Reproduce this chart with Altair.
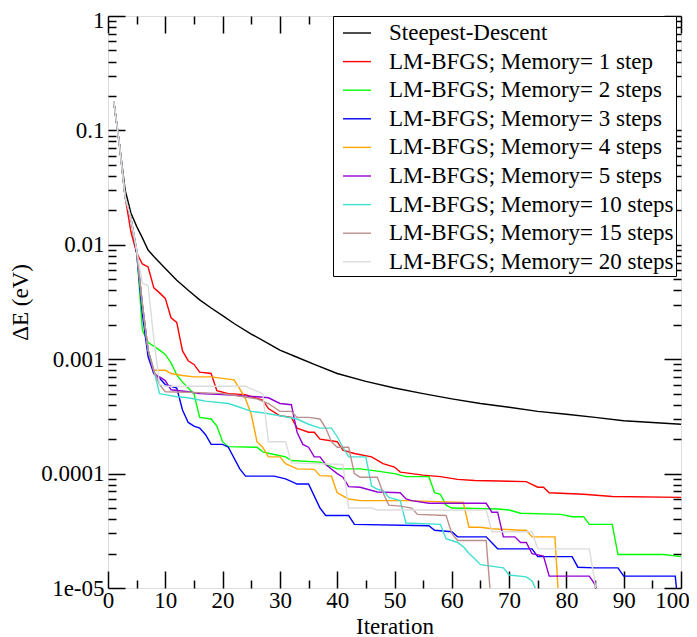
import altair as alt
import pandas as pd
import math

# ---------------- data ----------------
series_names = [
    "Steepest-Descent",
    "LM-BFGS; Memory= 1 step",
    "LM-BFGS; Memory= 2 steps",
    "LM-BFGS; Memory= 3 steps",
    "LM-BFGS; Memory= 4 steps",
    "LM-BFGS; Memory= 5 steps",
    "LM-BFGS; Memory= 10 steps",
    "LM-BFGS; Memory= 15 steps",
    "LM-BFGS; Memory= 20 steps",
]
series_colors = ["#000000", "#ff0000", "#00ff00", "#0000ff", "#ffa500",
                 "#9400d3", "#40e0d0", "#bc8f8f", "#dcdcdc"]

it_sd = [1, 2, 3, 4, 5, 6, 7, 8, 9, 10, 12, 14, 16, 18, 20, 22, 25, 28, 30, 33, 36, 40, 45,
         50, 55, 60, 65, 70, 75, 80, 85, 90, 95, 100]
dE_sd = [0.18, 0.075, 0.03, 0.019, 0.0145, 0.0115, 0.009, 0.0079, 0.007, 0.0062, 0.0049,
         0.004, 0.0033, 0.0028, 0.0024, 0.00205, 0.00166, 0.00137, 0.0012, 0.00104, 0.0009,
         0.00075, 0.00064, 0.00056, 0.0005, 0.00045, 0.00041, 0.00038, 0.00035, 0.00033,
         0.00031, 0.00029, 0.00028, 0.00027]

it_m1 = [1, 2, 3, 4, 5, 6, 7, 8, 9, 10, 11, 12, 13, 14, 15, 16, 18, 19, 21, 24, 25, 27, 28, 30,
         32, 33, 35, 36, 37, 40, 41, 43, 46, 48, 50, 51, 53, 55, 58, 61, 64, 73, 75, 76, 77, 83,
         88, 100]
dE_m1 = [0.18, 0.075, 0.026, 0.013, 0.0085, 0.0068, 0.0064, 0.0042, 0.0038, 0.0034, 0.0023,
         0.0021, 0.00118, 0.00097, 0.0009, 0.00077, 0.00075, 0.00053, 0.0005, 0.00049, 0.00047,
         0.00044, 0.00037, 0.00032, 0.00031, 0.00025, 0.00023, 0.00023, 0.0002, 0.00019,
         0.00016, 0.00015, 0.00014, 0.000122, 0.000114, 0.000103, 0.0001, 0.000097, 0.000094,
         0.000089, 0.000087, 0.000085, 0.000076, 0.000076, 0.000068, 0.000066, 0.000063,
         0.000062]

it_m2 = [1, 2, 3, 4, 5, 6, 7, 8, 9, 10, 11, 12, 13, 14, 15, 16, 18, 19, 20, 21, 26, 27, 29, 31,
         32, 37, 40, 44, 47, 50, 52, 56, 57, 58, 59, 60, 68, 70, 72, 79, 81, 83, 84, 88, 89, 97,
         100]
dE_m2 = [0.18, 0.075, 0.026, 0.017, 0.009, 0.0018, 0.0014, 0.0013, 0.0012, 0.0011, 0.00093,
         0.00073, 0.00063, 0.00056, 0.0005, 0.00031, 0.0003, 0.00026, 0.00019, 0.000172,
         0.00017, 0.000155, 0.000147, 0.00014, 0.00013, 0.000126, 0.00011, 0.00011, 0.000105,
         0.0001, 0.000094, 0.000094, 0.000068, 0.000066, 0.000053, 0.00005, 0.000049,
         0.000048, 0.000045, 0.000044, 0.000042, 0.000042, 0.000036, 0.000036, 0.0000196,
         0.0000196, 0.0000188]

it_m3 = [1, 2, 3, 4, 5, 6, 7, 8, 9, 10, 11, 12, 13, 14, 15, 16, 17, 18, 20, 21, 23, 24, 29, 31,
         33, 35, 37, 38, 42, 43, 56, 57, 60, 61, 66, 68, 74, 75, 81, 82, 85, 89, 90, 99, 100]
dE_m3 = [0.18, 0.075, 0.026, 0.017, 0.0085, 0.0025, 0.00105, 0.00075, 0.00068, 0.0006,
         0.00058, 0.00056, 0.00036, 0.00028, 0.00026, 0.00025, 0.00022, 0.00018, 0.00018,
         0.00017, 0.00011, 0.000095, 0.000095, 0.00009, 0.000081, 0.000081, 0.00005,
         0.000043, 0.000043, 0.000036, 0.000035, 0.000032, 0.000031, 0.000028, 0.000028,
         0.000022, 0.000022, 0.0000188, 0.0000188, 0.0000152, 0.000015, 0.000015, 0.0000127,
         0.0000127, 0.000004]

it_m4 = [1, 2, 3, 4, 5, 6, 7, 8, 10, 11, 13, 15, 18, 20, 22, 23, 24, 25, 26, 27, 28, 30, 31, 33,
         36, 37, 39, 40, 42, 44, 52, 62, 63, 65, 67, 72, 73, 74, 78, 79]
dE_m4 = [0.18, 0.075, 0.026, 0.017, 0.009, 0.003, 0.0012, 0.0008, 0.0008, 0.00075, 0.00072,
         0.0007, 0.0007, 0.00068, 0.00066, 0.00055, 0.00045, 0.00033, 0.00019, 0.00017,
         0.00014, 0.00014, 0.000122, 0.00011, 0.000109, 0.000096, 0.000095, 0.000068,
         0.00006, 0.000058, 0.000058, 0.000056, 0.000034, 0.000034, 0.000033, 0.000032,
         0.000032, 0.000028, 0.000028, 0.000004]

it_m5 = [1, 2, 3, 4, 5, 6, 7, 8, 9, 10, 11, 14, 16, 20, 26, 28, 30, 32, 33, 34, 35, 36, 37, 38,
         40, 41, 42, 44, 47, 51, 52, 53, 56, 66, 67, 68, 69, 71, 72, 73, 74, 76, 77, 84, 85, 86]
dE_m5 = [0.18, 0.075, 0.026, 0.017, 0.009, 0.003, 0.0012, 0.00075, 0.0007, 0.00065, 0.00054,
         0.00052, 0.0005, 0.00049, 0.00047, 0.00046, 0.00041, 0.0004, 0.00023, 0.00018,
         0.00017, 0.00014, 0.00014, 0.00012, 0.0001, 0.000093, 0.000077, 0.000076, 0.000069,
         0.000068, 0.00006, 0.000058, 0.000055, 0.000055, 0.000046, 0.000046, 0.000028,
         0.000028, 0.000025, 0.000025, 0.00002, 0.000019, 0.0000127, 0.0000127, 0.0000107,
         0.000007]

it_m10 = [1, 2, 3, 4, 5, 6, 7, 8, 9, 10, 12, 14, 16, 17, 21, 23, 25, 27, 30, 33, 35, 37, 39, 40,
          41, 42, 45, 46, 47, 48, 49, 51, 52, 58, 59, 61, 62, 63, 64, 65, 69, 70, 73, 74, 75, 76]
dE_m10 = [0.18, 0.075, 0.026, 0.017, 0.009, 0.003, 0.0012, 0.0008, 0.0005, 0.00049, 0.00047,
          0.00046, 0.00044, 0.00043, 0.00041, 0.00038, 0.00035, 0.00034, 0.00032, 0.0003,
          0.00027, 0.00025, 0.00025, 0.00021, 0.00017, 0.00014, 0.00014, 0.000078, 0.000073,
          0.000071, 0.000062, 0.000058, 0.000037, 0.000036, 0.000027, 0.000025, 0.000023,
          0.00002, 0.000018, 0.000016, 0.000015, 0.000013, 0.0000125, 0.0000115, 0.000009,
          0.000005]

it_m15 = [1, 2, 3, 4, 5, 6, 7, 8, 9, 10, 16, 20, 26, 28, 30, 32, 33, 35, 37, 38, 39, 40, 42, 43,
          44, 47, 48, 49, 51, 53, 54, 59, 60, 61, 66, 67]
dE_m15 = [0.18, 0.075, 0.026, 0.017, 0.009, 0.003, 0.0012, 0.0008, 0.0006, 0.00052, 0.00051,
          0.0005, 0.00045, 0.00041, 0.00035, 0.00035, 0.00031, 0.00031, 0.0003, 0.00025,
          0.00019, 0.00017, 0.00017, 0.0001, 0.000093, 0.000093, 0.000068, 0.000053, 0.000052,
          0.00005, 0.000044, 0.000043, 0.00003, 0.000026, 0.000026, 0.000006]

it_m20 = [1, 2, 3, 4, 5, 6, 7, 8, 9, 10, 24, 25, 27, 28, 31, 32, 41, 42, 46, 47, 66, 67, 74, 75,
          84, 85, 86]
dE_m20 = [0.18, 0.075, 0.026, 0.017, 0.009, 0.0046, 0.0044, 0.0015, 0.0006, 0.00058, 0.00058,
          0.00055, 0.0005, 0.00019, 0.00019, 0.000124, 0.00012, 0.00005, 0.00005, 0.000048,
          0.000048, 0.000031, 0.000031, 0.000022, 0.000022, 0.000011, 0.000003]

x_major = list(range(0, 101, 10))
x_minor = list(range(5, 100, 10))
y_major = [1, 0.1, 0.01, 0.001, 0.0001, 0.00001]
y_major_labels = ["1", "0.1", "0.01", "0.001", "0.0001", "1e-05"]
y_minor = [m * 10.0 ** e for e in range(-5, 0) for m in range(2, 10)]

# ---------------- table ----------------
all_iters = [it_sd, it_m1, it_m2, it_m3, it_m4, it_m5, it_m10, it_m15, it_m20]
all_vals = [dE_sd, dE_m1, dE_m2, dE_m3, dE_m4, dE_m5, dE_m10, dE_m15, dE_m20]
rows = []
for name, xs, ys in zip(series_names, all_iters, all_vals):
    if len(xs) != len(ys):
        raise ValueError(f"length mismatch in {name}: {len(xs)} vs {len(ys)}")
    for xv, yv in zip(xs, ys):
        rows.append({"series": name, "iter": xv, "dE": yv})
df = pd.DataFrame(rows)

label_expr = ""
for v, lab in zip(y_major, y_major_labels):
    label_expr += f"abs(log(datum.value)/LN10 - ({math.log10(v):.3f})) < 0.01 ? '{lab}' : "
label_expr += "''"

FONT = "Liberation Serif"
FS = 23
MAJ = 17
MIN = 8

common = dict(domain=False, grid=False, tickColor="black", tickWidth=1.5,
              labelFont=FONT, labelFontSize=FS, labelColor="black",
              titleFont=FONT, titleFontSize=FS, titleFontWeight="normal", titleColor="black")

x_scale = alt.Scale(domain=[0, 100], nice=False, zero=False)
y_scale = alt.Scale(type="log", domain=[0.00001, 1], nice=False)

base = alt.Chart(df)

lines = base.mark_line(clip=True, strokeWidth=1.4).encode(
    x=alt.X("iter:Q", scale=x_scale,
            axis=alt.Axis(orient="bottom", values=x_major, tickSize=MAJ, offset=-MAJ,
                          labelPadding=1, format="d", labelFlush=False,
                          labelOffset={"condition": {"test": "datum.value >= 100",
                                                     "value": -9},
                                       "value": 0},
                          title="Iteration", titlePadding=3, **common)),
    y=alt.Y("dE:Q", scale=y_scale,
            axis=alt.Axis(orient="left", values=y_major, tickSize=MAJ, offset=-MAJ,
                          labelPadding=4, labelFlush=False, labelExpr=label_expr,
                          labelOffset={"condition": {"test": "datum.value >= 0.5",
                                                     "value": 4},
                                       "value": 0},
                          title="ΔE (eV)", titlePadding=8, **common)),
    color=alt.Color("series:N", sort=series_names,
                    scale=alt.Scale(domain=series_names, range=series_colors),
                    legend=alt.Legend(orient="none", legendX=225, legendY=0, title=None,
                                      symbolType="stroke", symbolSize=784, symbolOffset=7,
                                      symbolStrokeWidth=1.4, labelFont=FONT,
                                      labelFontSize=FS, labelColor="black", labelOffset=17,
                                      labelLimit=500, padding=2, rowPadding=1.6,
                                      strokeColor="black", fillColor="white")),
)


def ghost(xorient, yorient, xvals, yvals, size):
    return base.mark_point(opacity=0, clip=True).encode(
        x=alt.X("iter:Q", scale=x_scale,
                axis=alt.Axis(orient=xorient, values=xvals, tickSize=size, offset=-size,
                              labels=False, title=None, **common)),
        y=alt.Y("dE:Q", scale=y_scale,
                axis=alt.Axis(orient=yorient, values=yvals, tickSize=size, offset=-size,
                              labels=False, title=None, **common)),
    )


chart = alt.layer(
    lines,
    ghost("bottom", "left", x_minor, y_minor, MIN),
    ghost("top", "right", x_major, y_major, MAJ),
    ghost("top", "right", x_minor, y_minor, MIN),
).resolve_axis(x="independent", y="independent").properties(
    width=573, height=572,
    autosize=alt.AutoSizeParams(type="none"),
    padding={"left": 100, "top": 8, "right": 8, "bottom": 49},
).configure_view(stroke="black", strokeWidth=2).configure(background="white")

chart.save("out.html", embed_options={"renderer": "svg", "actions": False})
